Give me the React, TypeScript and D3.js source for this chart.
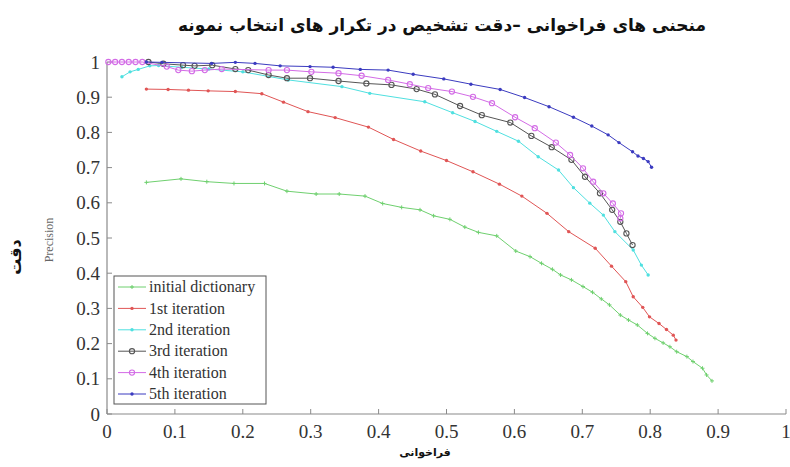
import * as d3 from "d3";

const W = 790;
const H = 467;

const titleText = "منحنی های فراخوانی –دقت تشخیص در تکرار های انتخاب نمونه";
const xAxisTitle = "فراخوانی";
const yAxisTitle = "دقت";

const seriesNames = [
  "initial dictionary",
  "1st iteration",
  "2nd iteration",
  "3rd iteration",
  "4th iteration",
  "5th iteration",
];
const seriesColors = ["#6fd06f", "#e05555", "#4fe0e0", "#555555", "#d36be6", "#3b3bc0"];
const seriesMarkers = ["plus", "dot", "dot", "circle", "circle", "dot"];

const initialDict: [number, number][] = [
  [0.058, 0.658], [0.109, 0.668], [0.147, 0.66], [0.187, 0.655], [0.232, 0.655],
  [0.265, 0.633], [0.308, 0.625], [0.342, 0.625], [0.38, 0.619], [0.406, 0.598],
  [0.434, 0.587], [0.461, 0.58], [0.481, 0.563], [0.505, 0.553], [0.527, 0.531],
  [0.547, 0.516], [0.574, 0.506], [0.602, 0.463], [0.623, 0.447], [0.64, 0.428],
  [0.656, 0.411], [0.668, 0.395], [0.684, 0.381], [0.701, 0.362], [0.715, 0.346],
  [0.728, 0.327], [0.74, 0.31], [0.756, 0.281], [0.768, 0.267], [0.781, 0.253],
  [0.796, 0.229], [0.807, 0.215], [0.819, 0.202], [0.829, 0.191], [0.839, 0.177],
  [0.854, 0.163], [0.863, 0.149], [0.877, 0.13], [0.883, 0.111], [0.891, 0.094],
];

const iter1: [number, number][] = [
  [0.058, 0.923], [0.09, 0.922], [0.12, 0.92], [0.149, 0.918], [0.189, 0.916],
  [0.228, 0.91], [0.26, 0.886], [0.296, 0.859], [0.336, 0.842], [0.385, 0.815],
  [0.422, 0.78], [0.462, 0.747], [0.5, 0.72], [0.539, 0.688], [0.578, 0.653],
  [0.611, 0.619], [0.648, 0.57], [0.68, 0.518], [0.719, 0.471], [0.743, 0.42],
  [0.764, 0.376], [0.775, 0.333], [0.789, 0.303], [0.799, 0.276], [0.813, 0.257],
  [0.824, 0.24], [0.834, 0.224], [0.838, 0.21],
];

const iter2: [number, number][] = [
  [0.022, 0.958], [0.034, 0.972], [0.046, 0.979], [0.063, 0.989], [0.076, 0.99],
  [0.11, 0.985], [0.15, 0.98], [0.2, 0.972], [0.267, 0.949], [0.346, 0.93],
  [0.387, 0.911], [0.468, 0.887], [0.509, 0.856], [0.542, 0.831], [0.574, 0.803],
  [0.606, 0.775], [0.635, 0.731], [0.665, 0.693], [0.687, 0.643], [0.711, 0.599],
  [0.731, 0.565], [0.748, 0.518], [0.775, 0.466], [0.787, 0.423], [0.797, 0.395],
];

const iter3: [number, number][] = [
  [0.061, 1.0], [0.083, 0.995], [0.112, 0.991], [0.129, 0.989], [0.155, 0.991],
  [0.189, 0.98], [0.208, 0.977], [0.238, 0.963], [0.265, 0.954], [0.299, 0.954],
  [0.341, 0.946], [0.382, 0.939], [0.419, 0.935], [0.456, 0.923], [0.483, 0.908],
  [0.52, 0.875], [0.552, 0.849], [0.594, 0.828], [0.625, 0.79], [0.655, 0.758],
  [0.684, 0.722], [0.704, 0.674], [0.726, 0.627], [0.744, 0.58], [0.756, 0.546],
  [0.765, 0.513], [0.774, 0.48],
];

const iter4: [number, number][] = [
  [0.002, 1.0], [0.012, 1.0], [0.022, 1.0], [0.032, 1.0], [0.042, 1.0], [0.052, 1.0],
  [0.088, 0.987], [0.105, 0.977], [0.125, 0.974], [0.144, 0.977], [0.169, 0.98],
  [0.238, 0.977], [0.265, 0.977], [0.301, 0.972], [0.341, 0.968], [0.375, 0.961],
  [0.414, 0.949], [0.446, 0.937], [0.473, 0.926], [0.508, 0.916], [0.539, 0.901],
  [0.567, 0.883], [0.601, 0.843], [0.63, 0.812], [0.661, 0.771], [0.682, 0.736],
  [0.701, 0.698], [0.716, 0.66], [0.731, 0.627], [0.745, 0.598], [0.757, 0.57],
  [0.756, 0.556],
];

const iter5: [number, number][] = [
  [0.058, 1.0], [0.081, 0.999], [0.154, 0.996], [0.189, 0.999], [0.218, 0.996],
  [0.255, 0.989], [0.299, 0.987], [0.333, 0.985], [0.373, 0.979], [0.414, 0.977],
  [0.451, 0.965], [0.496, 0.952], [0.536, 0.937], [0.579, 0.922], [0.615, 0.899],
  [0.651, 0.873], [0.687, 0.843], [0.714, 0.818], [0.738, 0.793], [0.754, 0.771],
  [0.774, 0.745], [0.782, 0.733], [0.79, 0.726], [0.797, 0.717], [0.802, 0.701],
];

const allSeries = [initialDict, iter1, iter2, iter3, iter4, iter5];

function Marker({ kind, x, y, color }: { kind: string; x: number; y: number; color: string }) {
  if (kind === "plus") {
    return (
      <path d={`M${x - 2},${y}H${x + 2}M${x},${y - 2}V${y + 2}`} stroke={color} strokeWidth={1} />
    );
  }
  if (kind === "circle") {
    return <circle cx={x} cy={y} r={2.6} fill="none" stroke={color} strokeWidth={1.1} />;
  }
  return <circle cx={x} cy={y} r={1.7} fill={color} />;
}

export default function App() {
  const x = d3.scaleLinear().domain([0, 1]).range([107, 786]);
  const y = d3.scaleLinear().domain([0, 1]).range([414, 62]);
  const line = d3
    .line<[number, number]>()
    .x(d => x(d[0]))
    .y(d => y(d[1]));

  const ticks = x.ticks(10);
  const fmt = (t: number) => String(+t.toFixed(1));
  const axisColor = "#8a8a8a";
  const labelColor = "#333";

  const legendX = 114;
  const legendY = 276;
  const legendStep = 21.4;

  return (
    <svg width={W} height={H} style={{ display: "block", position: "absolute", left: 0, top: 0 }}>
      <rect width={W} height={H} fill="#fff" />

      <text
        x={442}
        y={31}
        textAnchor="middle"
        direction="rtl"
        fontFamily="DejaVu Sans"
        fontWeight="bold"
        fontSize={17}
        fill="#111"
      >
        {titleText}
      </text>

      {/* axes */}
      <line x1={x(0)} x2={x(0)} y1={y(1)} y2={y(0)} stroke={axisColor} strokeWidth={1.2} />
      <line x1={x(0)} x2={x(1)} y1={y(0)} y2={y(0)} stroke={axisColor} strokeWidth={1.2} />
      {ticks.map(t => (
        <g key={"x" + t}>
          <line x1={x(t)} x2={x(t)} y1={y(0)} y2={y(0) - 5} stroke={axisColor} />
          <text
            x={x(t)}
            y={y(0) + 24}
            textAnchor="middle"
            fontFamily="Liberation Serif"
            fontSize={19}
            fill={labelColor}
          >
            {fmt(t)}
          </text>
        </g>
      ))}
      {ticks.map(t => (
        <g key={"y" + t}>
          <line x1={x(0)} x2={x(0) + 5} y1={y(t)} y2={y(t)} stroke={axisColor} />
          <text
            x={x(0) - 7}
            y={y(t)}
            dy="0.35em"
            textAnchor="end"
            fontFamily="Liberation Serif"
            fontSize={19}
            fill={labelColor}
          >
            {fmt(t)}
          </text>
        </g>
      ))}

      <text
        x={425}
        y={456}
        textAnchor="middle"
        fontFamily="DejaVu Sans"
        fontWeight="bold"
        fontSize={11}
        fill="#111"
      >
        {xAxisTitle}
      </text>
      <text
        transform="translate(21,257) rotate(-90)"
        textAnchor="middle"
        fontFamily="DejaVu Sans"
        fontWeight="bold"
        fontSize={16}
        fill="#111"
      >
        {yAxisTitle}
      </text>
      <text
        transform="translate(53,240) rotate(-90)"
        textAnchor="middle"
        fontFamily="Liberation Serif"
        fontSize={12}
        fill="#666"
      >
        Precision
      </text>

      {/* series */}
      {allSeries.map((s, i) => (
        <g key={"s" + i}>
          <path d={line(s) || ""} fill="none" stroke={seriesColors[i]} strokeWidth={1} />
          {s.map((d, j) => (
            <Marker key={j} kind={seriesMarkers[i]} x={x(d[0])} y={y(d[1])} color={seriesColors[i]} />
          ))}
        </g>
      ))}

      {/* legend */}
      <rect
        x={legendX}
        y={legendY}
        width={152}
        height={128}
        fill="#fff"
        stroke="#555"
        strokeWidth={1}
      />
      {seriesNames.map((name, i) => {
        const cy = legendY + 11 + i * legendStep;
        return (
          <g key={name}>
            <line x1={legendX + 4} x2={legendX + 32} y1={cy} y2={cy} stroke={seriesColors[i]} />
            <Marker kind={seriesMarkers[i]} x={legendX + 18} y={cy} color={seriesColors[i]} />
            <text
              x={legendX + 35}
              y={cy}
              dy="0.33em"
              fontFamily="Liberation Serif"
              fontSize={16}
              fill={labelColor}
            >
              {name}
            </text>
          </g>
        );
      })}
    </svg>
  );
}
